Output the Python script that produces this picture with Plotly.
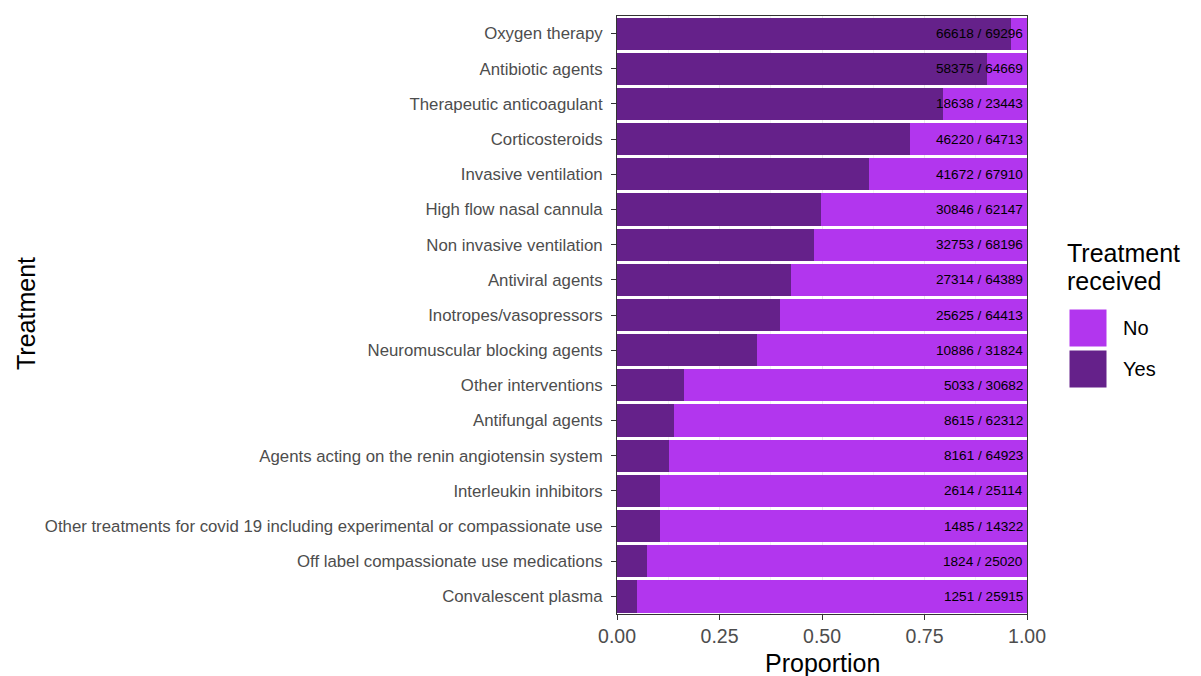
import plotly.graph_objects as go

categories = [
    "Oxygen therapy",
    "Antibiotic agents",
    "Therapeutic anticoagulant",
    "Corticosteroids",
    "Invasive ventilation",
    "High flow nasal cannula",
    "Non invasive ventilation",
    "Antiviral agents",
    "Inotropes/vasopressors",
    "Neuromuscular blocking agents",
    "Other interventions",
    "Antifungal agents",
    "Agents acting on the renin angiotensin system",
    "Interleukin inhibitors",
    "Other treatments for covid 19 including experimental or compassionate use",
    "Off label compassionate use medications",
    "Convalescent plasma",
]
yes_counts = [66618, 58375, 18638, 46220, 41672, 30846, 32753, 27314, 25625,
              10886, 5033, 8615, 8161, 2614, 1485, 1824, 1251]
totals = [69296, 64669, 23443, 64713, 67910, 62147, 68196, 64389, 64413,
          31824, 30682, 62312, 64923, 25114, 14322, 25020, 25915]
x_ticks = [0, 0.25, 0.5, 0.75, 1.0]
x_tick_labels = ["0.00", "0.25", "0.50", "0.75", "1.00"]

YES_COLOR = "#65218A"
NO_COLOR = "#B236EE"
FONT = "Liberation Sans, Arial, sans-serif"

p_yes = [y / t for y, t in zip(yes_counts, totals)]
p_no = [1 - p for p in p_yes]
labels = [f"{y} / {t}" for y, t in zip(yes_counts, totals)]

fig = go.Figure()
fig.add_trace(go.Bar(
    y=categories, x=p_yes, orientation="h", name="Yes",
    marker=dict(color=YES_COLOR, line=dict(width=0)),
    showlegend=False, hoverinfo="skip",
))
fig.add_trace(go.Bar(
    y=categories, x=p_no, orientation="h", name="No",
    marker=dict(color=NO_COLOR, line=dict(width=0)),
    showlegend=False, hoverinfo="skip",
))
for cat, lab in zip(categories, labels):
    fig.add_annotation(x=1.0, y=cat, xref="x", yref="y", text=lab,
                       showarrow=False, xanchor="right", yanchor="middle",
                       xshift=-2, font=dict(family=FONT, size=13.6, color="black"))

# the page body adds ~7px offset; compensate so the page matches the reference
OFF = 7
fig.update_layout(
    template="none",
    barmode="stack", bargap=0.085,
    width=1201 - OFF, height=676 - OFF,
    margin=dict(l=616 - OFF, r=175, t=15 - OFF, b=63),
    plot_bgcolor="white", paper_bgcolor="white",
    font=dict(family=FONT),
)
fig.update_xaxes(
    automargin=False,
    range=[0, 1], tickvals=x_ticks, ticktext=x_tick_labels,
    tickfont=dict(size=19.5, color="#4D4D4D"),
    ticks="outside", ticklen=5, tickcolor="#333333", tickwidth=1,
    showgrid=True, gridcolor="#EBEBEB", gridwidth=1,
    minor=dict(tickvals=[0.125, 0.375, 0.625, 0.875], showgrid=True,
               gridcolor="#F3F3F3", gridwidth=0.6, ticks=""),
    showline=True, linecolor="#333333", linewidth=1, mirror=True,
    zeroline=False,
)
fig.update_yaxes(
    automargin=False,
    categoryorder="array", categoryarray=categories[::-1],
    range=[-0.5, len(categories) - 0.5],
    tickfont=dict(size=16.8, color="#4D4D4D"),
    ticks="outside", ticklen=5, tickcolor="#333333", tickwidth=1,
    ticklabelstandoff=5,
    showgrid=True, gridcolor="#EBEBEB",
    showline=True, linecolor="#333333", linewidth=1, mirror=True,
    zeroline=False,
)

def px_x(px):
    return (px - 616) / 410

def px_y(py):
    return (613 - py) / 598

# axis titles
fig.add_annotation(x=px_x(821), y=px_y(662), xref="paper", yref="paper",
                   text="Proportion", showarrow=False, xanchor="center", yanchor="middle",
                   font=dict(size=25, color="black"))
fig.add_annotation(x=px_x(25), y=px_y(313), xref="paper", yref="paper",
                   text="Treatment", showarrow=False, textangle=-90,
                   xanchor="center", yanchor="middle",
                   font=dict(size=25, color="black"))

# manual legend
fig.add_annotation(x=px_x(1064), y=px_y(252), xref="paper", yref="paper",
                   text="Treatment", showarrow=False, xanchor="left", yanchor="middle",
                   font=dict(size=25, color="black"))
fig.add_annotation(x=px_x(1064), y=px_y(280), xref="paper", yref="paper",
                   text="received", showarrow=False, xanchor="left", yanchor="middle",
                   font=dict(size=25, color="black"))
for name, color, top in [("No", NO_COLOR, 308), ("Yes", YES_COLOR, 349)]:
    fig.add_shape(type="rect", xref="paper", yref="paper",
                  x0=px_x(1068), x1=px_x(1106), y0=px_y(top + 38), y1=px_y(top),
                  fillcolor=color, line=dict(color="white", width=1))
    fig.add_annotation(x=px_x(1120), y=px_y(top + 19), xref="paper", yref="paper",
                       text=name, showarrow=False, xanchor="left", yanchor="middle",
                       font=dict(size=20, color="black"))

fig.write_html("out.html")
